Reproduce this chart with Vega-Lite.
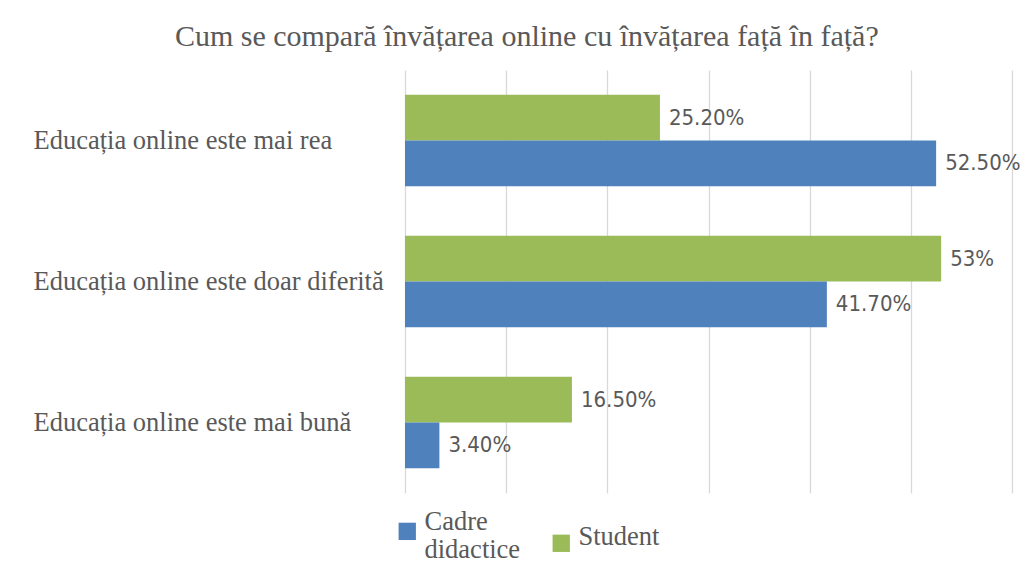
{
  "$schema": "https://vega.github.io/schema/vega-lite/v6.json",
  "autosize": {"type": "none"},
  "width": 607,
  "height": 423,
  "padding": {"left": 405, "top": 70, "right": 12, "bottom": 73},
  "background": "white",
  "title": {
    "text": "Cum se compară învățarea online cu învățarea față în față?",
    "font": "Liberation Serif",
    "fontSize": 30,
    "fontWeight": "normal",
    "color": "#595959",
    "anchor": "middle",
    "frame": "bounds",
    "offset": 18
  },
  "config": {"view": {"stroke": null}},
  "data": {
    "values": [
      {"cat": "Educația online este mai rea", "series": "Student", "value": 25.2, "label": "25.20%"},
      {"cat": "Educația online este mai rea", "series": "Cadre didactice", "value": 52.5, "label": "52.50%"},
      {"cat": "Educația online este doar diferită", "series": "Student", "value": 53, "label": "53%"},
      {"cat": "Educația online este doar diferită", "series": "Cadre didactice", "value": 41.7, "label": "41.70%"},
      {"cat": "Educația online este mai bună", "series": "Student", "value": 16.5, "label": "16.50%"},
      {"cat": "Educația online este mai bună", "series": "Cadre didactice", "value": 3.4, "label": "3.40%"}
    ]
  },
  "encoding": {
    "y": {
      "field": "cat",
      "type": "nominal",
      "sort": null,
      "scale": {"paddingInner": 0.35, "paddingOuter": 0.175},
      "axis": {
        "title": null,
        "ticks": false,
        "domain": false,
        "labelAlign": "left",
        "labelPadding": 372,
        "labelFont": "Liberation Serif",
        "labelFontSize": 26.5,
        "labelColor": "#595959",
        "labelLimit": 400
      }
    },
    "yOffset": {
      "field": "series",
      "type": "nominal",
      "sort": ["Student", "Cadre didactice"],
      "scale": {"paddingInner": 0, "paddingOuter": 0}
    },
    "x": {
      "field": "value",
      "type": "quantitative",
      "scale": {"domain": [0, 60], "nice": false},
      "axis": {
        "title": null,
        "labels": false,
        "ticks": false,
        "domain": false,
        "grid": true,
        "gridColor": "#d9d9d9",
        "gridWidth": 1.3,
        "values": [0, 10, 20, 30, 40, 50, 60]
      }
    }
  },
  "layer": [
    {
      "mark": {"type": "bar"},
      "encoding": {
        "color": {
          "field": "series",
          "type": "nominal",
          "scale": {"domain": ["Cadre didactice", "Student"], "range": ["#4F81BD", "#9BBB59"]},
          "legend": {
            "title": null,
            "orient": "none",
            "direction": "horizontal",
            "legendX": -11,
            "legendY": 448,
            "symbolType": "square",
            "symbolSize": 300,
            "symbolStrokeWidth": 0,
            "labelFont": "Liberation Serif",
            "labelFontSize": 26.5,
            "labelColor": "#595959",
            "labelOffset": 4,
            "columnPadding": 27,
            "labelExpr": "datum.label == 'Cadre didactice' ? ['Cadre', 'didactice'] : datum.label",
            "encode": {
              "labels": {
                "update": {
                  "dy": {"signal": "datum.value == 'Cadre didactice' ? -9 : -6"},
                  "lineHeight": {"value": 28}
                }
              }
            }
          }
        }
      }
    },
    {
      "mark": {
        "type": "text",
        "align": "left",
        "baseline": "middle",
        "dx": 9,
        "font": "DejaVu Sans Condensed, sans-serif",
        "fontSize": 22,
        "color": "#595959"
      },
      "encoding": {
        "text": {"field": "label"}
      }
    }
  ]
}
